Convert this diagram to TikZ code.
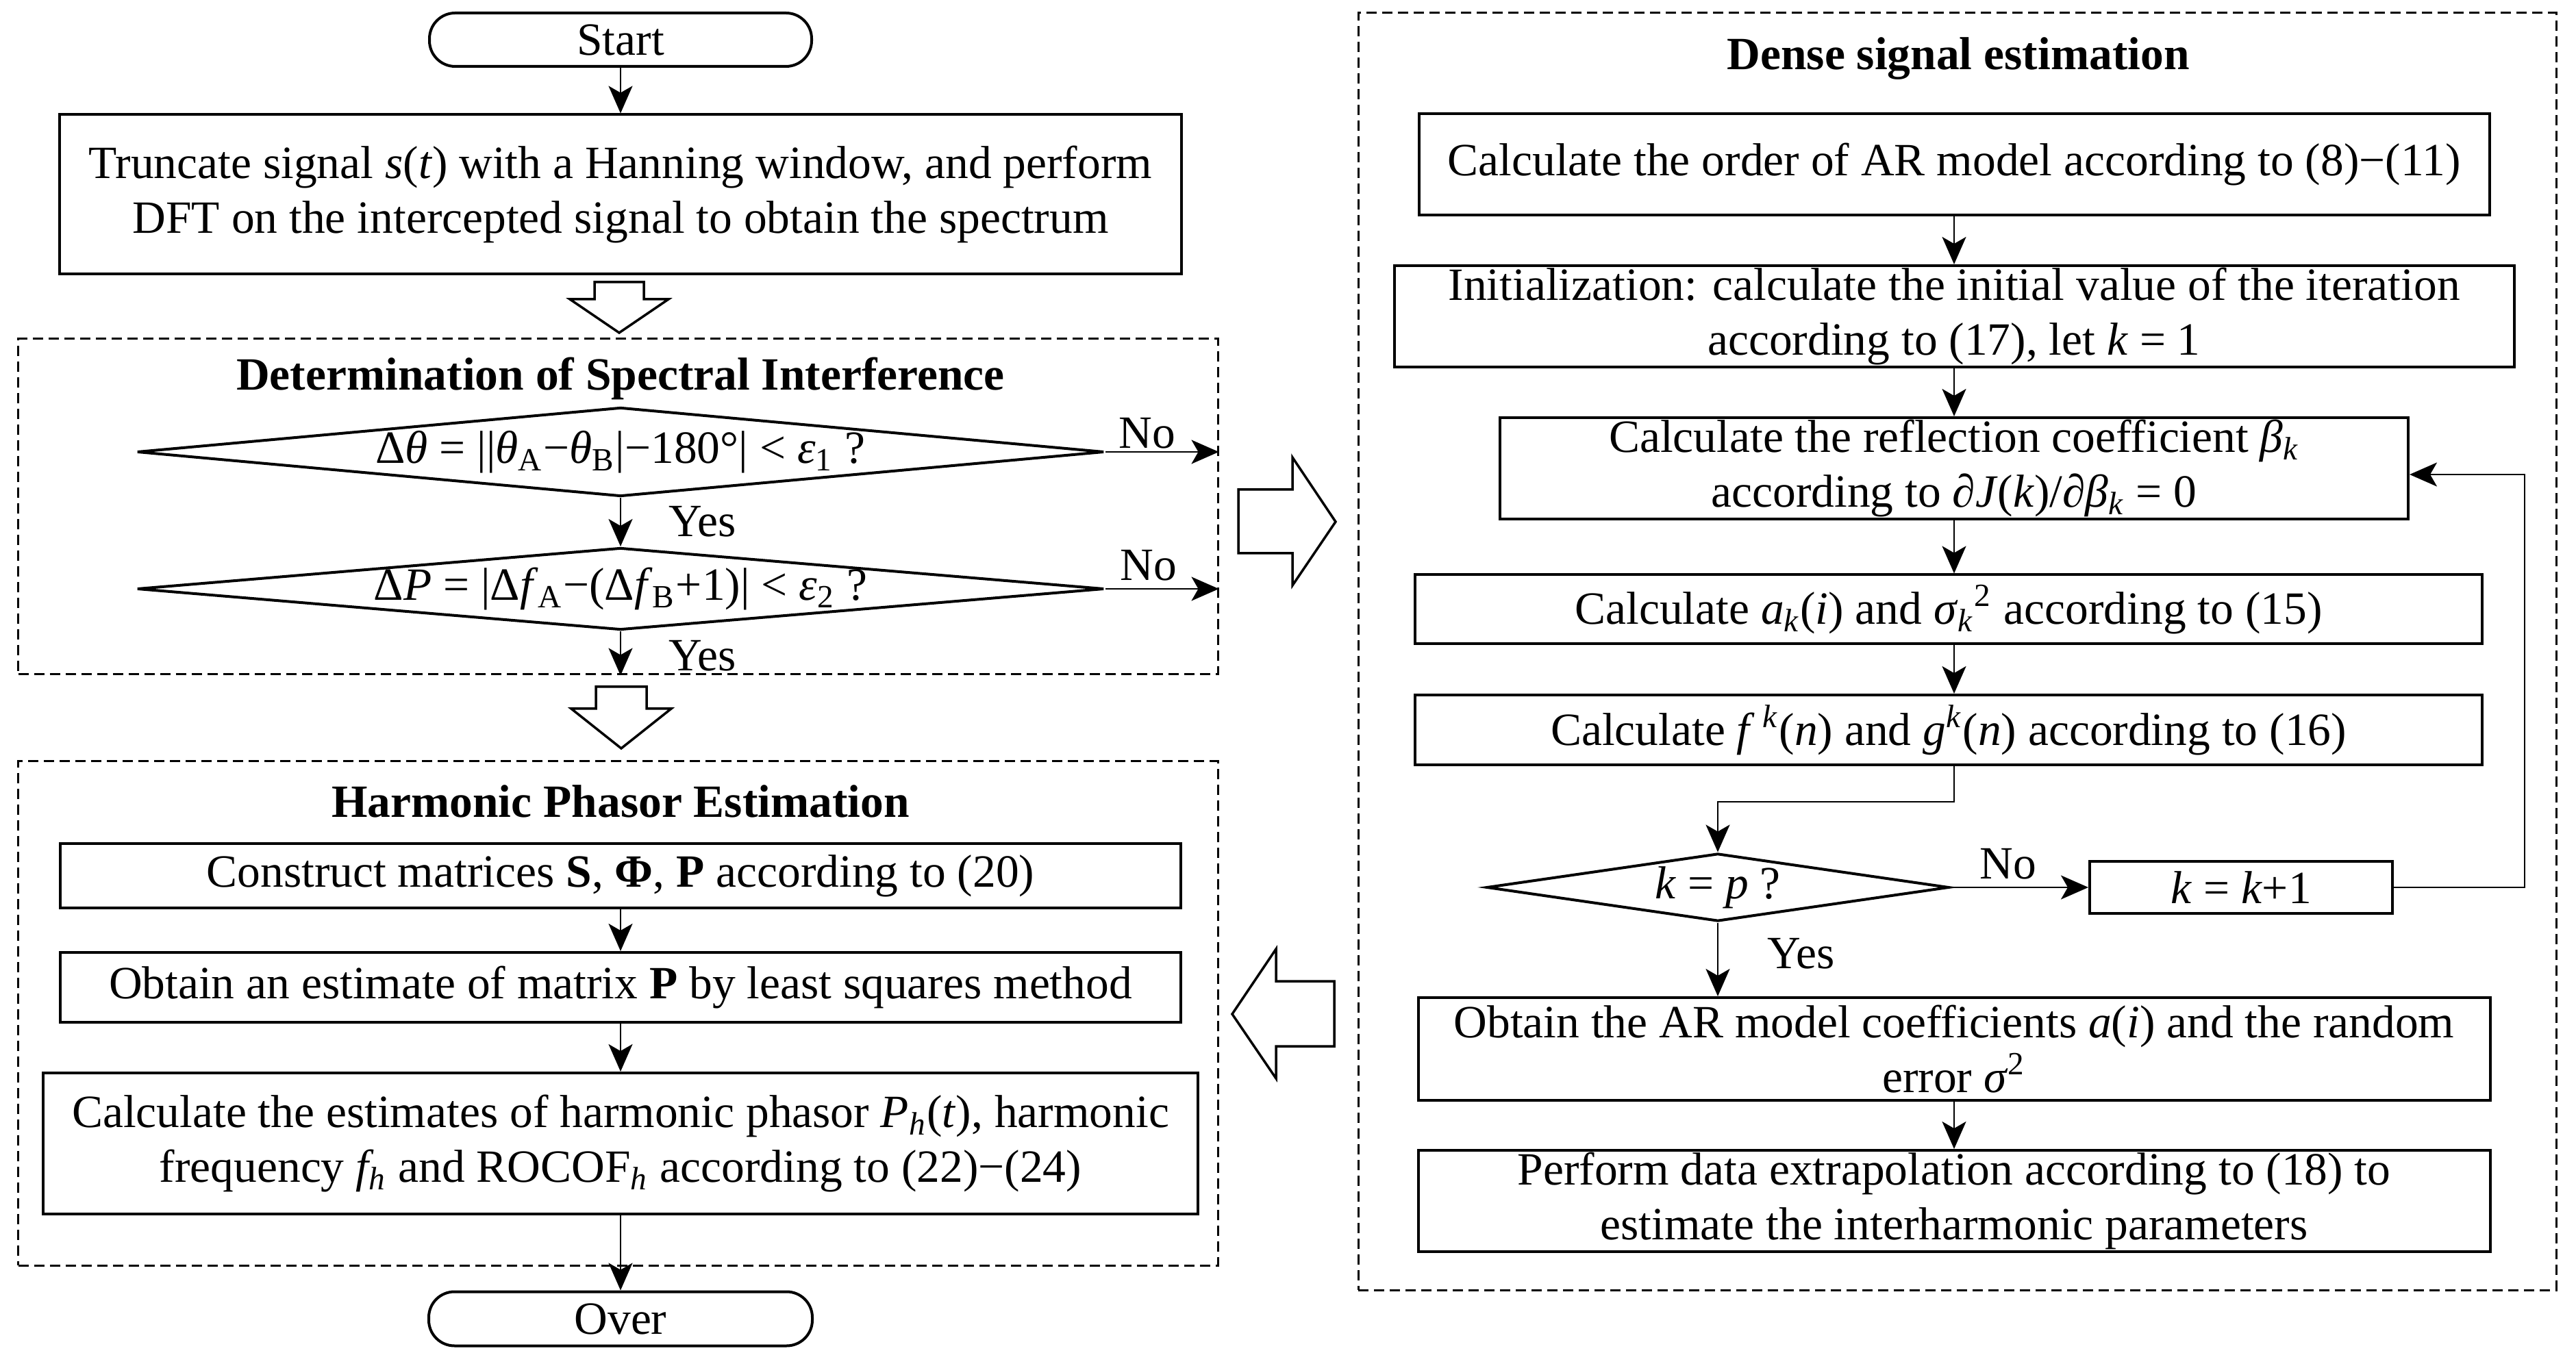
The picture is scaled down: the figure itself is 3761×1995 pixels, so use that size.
\documentclass[tikz,border=0pt]{standalone}
\usepackage{fontspec}
\setmainfont{Liberation Serif}
\usetikzlibrary{positioning,arrows.meta,shapes.geometric,calc}
\newcommand{\mvar}[1]{\textit{#1}}
\tikzset{
  box/.style={draw, line width=0.8pt, inner sep=0pt, align=center},
  term/.style={box, rounded corners=7.5pt},
  decision/.style={draw, diamond, line width=0.8pt, inner sep=0pt},
  group/.style={draw, line width=0.6pt, dash pattern=on 3pt off 1.6pt, inner sep=0pt},
  heading/.style={font=\fontsize{13.5}{16}\selectfont\bfseries},
  flow/.style={line width=0.5pt, -{Stealth[length=8pt,width=7pt,inset=2pt]}},
  hollow/.style={draw, line width=0.7pt, line join=miter},
}

\begin{document}
\begin{tikzpicture}[x=0.2pt, y=-0.2pt, font=\fontsize{13.5}{16}\selectfont]
\useasboundingbox (0,0) rectangle (3761,1995);

% dashed groups
\node[group, minimum width=350.2pt, minimum height=98pt] (grp1) at (902.5,740) {};
\node[group, minimum width=350.2pt, minimum height=147.2pt] (grp2) at (902.5,1480) {};
\node[group, minimum width=349.8pt, minimum height=373pt] (grp3) at (2857.5,951.5) {};
\node[heading] (t1) at (906,553) {Determination of Spectral Interference};
\node[heading] (t2) at (906,1170) {Harmonic Phasor Estimation};
\node[heading] (t3) at (2859,86) {Dense signal estimation};

% left column
\node[term, minimum width=111.6pt, minimum height=15.6pt] (start) at (906,58) {Start};
\node[box, minimum width=327.4pt, minimum height=46.6pt] (trunc) at (906,284)
  {Truncate signal \mvar{s}(\mvar{t}) with a Hanning window, and perform\\
   DFT on the intercepted signal to obtain the spectrum};
\node[decision, minimum width=282.4pt, minimum height=26pt] (d1) at (906,660) {};
\node (d1txt) at (d1) {Δ\mvar{θ} = ||\mvar{θ}\textsubscript{A}−\mvar{θ}\textsubscript{B}|−180°| < \mvar{ε}\textsubscript{1} ?};
\node[decision, minimum width=282.4pt, minimum height=24pt] (d2) at (906,860) {};
\node (d2txt) at (d2) {Δ\mvar{P} = |Δ\mvar{f}\textsubscript{A}−(Δ\mvar{f}\textsubscript{B}+1)| < \mvar{ε}\textsubscript{2} ?};
\node (no1) at (1675,633) {No};
\node (no2) at (1677,826) {No};
\node (yes1) at (1026,762) {Yes};
\node (yes2) at (1026,958) {Yes};
\node[box, minimum width=327.2pt, minimum height=18.8pt] (mat) at (906,1279)
  {Construct matrices \textbf{S}, \textbf{Φ}, \textbf{P} according to (20)};
\node[box, minimum width=327.2pt, minimum height=20.4pt] (ls) at (906,1442)
  {Obtain an estimate of matrix \textbf{P} by least squares method};
\node[box, minimum width=337pt, minimum height=41.2pt] (est) at (906,1670)
  {Calculate the estimates of harmonic phasor \mvar{P\textsubscript{h}}(\mvar{t}), harmonic\\
   frequency \mvar{f\textsubscript{h}} and ROCOF\textsubscript{\mvar{h}} according to (22)−(24)};
\node[term, minimum width=112pt, minimum height=15.8pt] (over) at (906,1926) {Over};

\draw[flow] (start) -- (trunc);
\draw[flow] (d1) -- (d2);
\draw[flow] (d1.east) -- (d1.east -| grp1.east);
\draw[flow] (d2.east) -- (d2.east -| grp1.east);
\draw[flow] (d2.south) -- (d2.south |- grp1.south);
\draw[flow] (mat) -- (ls);
\draw[flow] (ls) -- (est);
\draw[flow] (est) -- (over);

% right column
\node[box, minimum width=312.6pt, minimum height=29.6pt] (order) at (2853,240)
  {Calculate the order of AR model according to (8)−(11)};
\node[box, minimum width=327pt, minimum height=29.6pt] (init) at (2853,462)
  {Initialization: calculate the initial value of the iteration\\
   according to (17), let \mvar{k} = 1};
\node[box, minimum width=265.2pt, minimum height=29.6pt] (refl) at (2853,684)
  {Calculate the reflection coefficient \mvar{β\textsubscript{k}}\\
   according to ∂\mvar{J}(\mvar{k})/∂\mvar{β\textsubscript{k}} = 0};
\node[box, minimum width=311.6pt, minimum height=20.2pt] (coef) at (2845,890)
  {Calculate \mvar{a\textsubscript{k}}(\mvar{i}) and \mvar{σ}\textsubscript{\mvar{k}}\textsuperscript{2} according to (15)};
\node[box, minimum width=311.6pt, minimum height=20.4pt] (fg) at (2845,1066)
  {Calculate \mvar{f}\,\textsuperscript{\mvar{k}}(\mvar{n}) and \mvar{g}\textsuperscript{\mvar{k}}(\mvar{n}) according to (16)};
\node[decision, minimum width=135pt, minimum height=19.8pt] (d3) at (2508,1296) {};
\node (d3txt) at (d3) {\mvar{k} = \mvar{p} ?};
\node[box, minimum width=88.4pt, minimum height=15.2pt] (kinc) at (3272,1296) {\mvar{k} = \mvar{k}+1};
\node (no3) at (2932,1262) {No};
\node (yes3) at (2630,1393) {Yes};
\node[box, minimum width=313pt, minimum height=30pt] (arc) at (2853,1532)
  {Obtain the AR model coefficients \mvar{a}(\mvar{i}) and the random\\
   error \mvar{σ}\textsuperscript{2}};
\node[box, minimum width=313pt, minimum height=29.6pt] (extra) at (2853,1754)
  {Perform data extrapolation according to (18) to\\
   estimate the interharmonic parameters};
\coordinate (fb) at (3686,693);

\draw[flow] (order) -- (init);
\draw[flow] (init) -- (refl);
\draw[flow] (refl.south) -- (refl.south |- coef.north);
\draw[flow] (coef.south -| refl.south) -- (fg.north -| refl.south);
\draw[flow] (fg.south -| refl.south) -- ++(0,52) -| (d3.north);
\draw[flow] (d3.east) -- (kinc.west);
\draw[flow] (kinc.east) -| (fb) -- (fb -| refl.east);
\draw[flow] (d3.south) -- (d3.south |- arc.north);
\draw[flow] (arc) -- (extra);

% hollow arrows
\draw[hollow] (868,412) -- (940,412) -- (940,437) -- (976,437) -- (904,486) -- (832,437) -- (868,437) -- cycle;
\draw[hollow] (870,1003) -- (944,1003) -- (944,1035) -- (980,1035) -- (907,1093) -- (834,1035) -- (870,1035) -- cycle;
\draw[hollow] (1808,715) -- (1887,715) -- (1887,668) -- (1950,762) -- (1887,855) -- (1887,808) -- (1808,808) -- cycle;
\draw[hollow] (1948,1433) -- (1863,1433) -- (1863,1386) -- (1799,1481) -- (1863,1575) -- (1863,1528) -- (1948,1528) -- cycle;
\end{tikzpicture}
\end{document}
